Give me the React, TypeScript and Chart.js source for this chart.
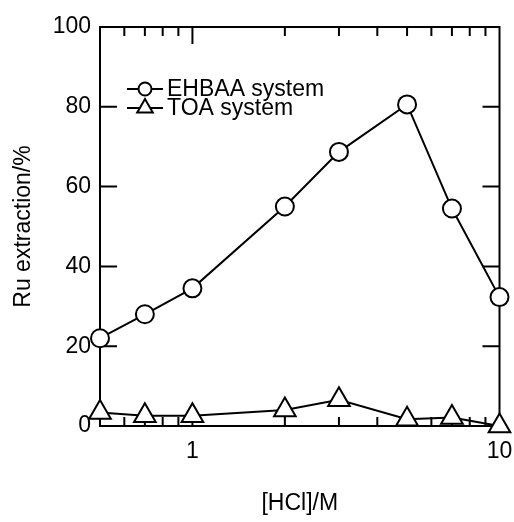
import React, { useEffect, useRef } from 'react';
import { Chart, registerables } from 'chart.js';
import { drawPoint } from 'chart.js/helpers';

Chart.register(...registerables);

const hcl = [0.5, 0.7, 1, 2, 3, 5, 7, 10];
const ehbaa = [22, 28, 34.5, 55, 68.7, 80.6, 54.5, 32.3];
const toa = [3.4, 2.6, 2.6, 4, 6.6, 1.7, 2.1, 0];
const xTickValues = [0.5, 0.6, 0.7, 0.8, 0.9, 1, 2, 3, 4, 5, 6, 7, 8, 9, 10];
const xMajor = [1, 10];
const yTickValues = [0, 20, 40, 60, 80, 100];
const seriesNames = ['EHBAA system', 'TOA system'];
const seriesStyles = ['circle', 'triangle'];
const xTitle = '[HCl]/M';
const yTitle = 'Ru extraction/%';

const FONT_FAMILY = '"Liberation Sans", Arial, Helvetica, sans-serif';

const framePlugin = {
  id: 'frameTicks',
  beforeDatasetsDraw(chart: any) {
    const { ctx, chartArea, scales } = chart;
    const { left, right, top, bottom } = chartArea;
    const x = scales.x;
    const y = scales.y;
    ctx.save();
    ctx.strokeStyle = '#000';
    ctx.lineWidth = 2;
    ctx.lineCap = 'butt';
    ctx.strokeRect(left, top, right - left, bottom - top);
    ctx.beginPath();
    xTickValues.forEach((v) => {
      if (v === xTickValues[0] || v === xTickValues[xTickValues.length - 1]) return;
      const px = x.getPixelForValue(v);
      const len = xMajor.includes(v) ? 17 : 9;
      ctx.moveTo(px, bottom);
      ctx.lineTo(px, bottom - len);
      ctx.moveTo(px, top);
      ctx.lineTo(px, top + len);
    });
    yTickValues.forEach((v) => {
      if (v === yTickValues[0] || v === yTickValues[yTickValues.length - 1]) return;
      const py = y.getPixelForValue(v);
      ctx.moveTo(left, py);
      ctx.lineTo(left + 17, py);
      ctx.moveTo(right, py);
      ctx.lineTo(right - 17, py);
    });
    ctx.stroke();
    ctx.restore();
  },
};

const legendPlugin = {
  id: 'customLegend',
  afterDraw(chart: any) {
    const { ctx } = chart;
    const rows = [89, 108];
    const radii = [6.5, 9];
    ctx.save();
    ctx.font = `23px ${FONT_FAMILY}`;
    ctx.textBaseline = 'middle';
    ctx.textAlign = 'left';
    seriesNames.forEach((name, i) => {
      const yy = rows[i];
      ctx.strokeStyle = '#000';
      ctx.lineWidth = 2;
      ctx.beginPath();
      ctx.moveTo(127, yy);
      ctx.lineTo(163, yy);
      ctx.stroke();
      ctx.fillStyle = '#fff';
      ctx.strokeStyle = '#000';
      drawPoint(ctx, { pointStyle: seriesStyles[i], radius: radii[i], rotation: 0, borderWidth: 2 } as any, 145, yy);
      ctx.fillStyle = '#000';
      ctx.fillText(name, 167, yy + 1);
    });
    ctx.restore();
  },
};

export default function App() {
  const ref = useRef<HTMLCanvasElement | null>(null);
  useEffect(() => {
    if (!ref.current) return;
    const font = { family: FONT_FAMILY, size: 23 };
    const tickFont = { family: FONT_FAMILY, size: 23 };
    const chart = new Chart(ref.current, {
      type: 'line',
      data: {
        datasets: [
          {
            label: seriesNames[0],
            data: hcl.map((v, i) => ({ x: v, y: ehbaa[i] })),
            borderColor: '#000',
            borderWidth: 2,
            pointStyle: 'circle',
            pointRadius: 9,
            pointBorderWidth: 2,
            pointBackgroundColor: '#fff',
            pointBorderColor: '#000',
            clip: false,
            tension: 0,
          } as any,
          {
            label: seriesNames[1],
            data: hcl.map((v, i) => ({ x: v, y: toa[i] })),
            borderColor: '#000',
            borderWidth: 2,
            pointStyle: 'triangle',
            pointRadius: 12.5,
            pointBorderWidth: 2,
            pointBackgroundColor: '#fff',
            pointBorderColor: '#000',
            clip: false,
            tension: 0,
          } as any,
        ],
      },
      options: {
        responsive: false,
        animation: false,
        devicePixelRatio: 1,
        layout: { padding: { top: 27, right: 13, left: 0, bottom: 0 } },
        plugins: { legend: { display: false }, tooltip: { enabled: false } },
        scales: {
          x: {
            type: 'logarithmic',
            min: 0.5,
            max: 10,
            afterBuildTicks: (s: any) => {
              s.ticks = xTickValues.map((v) => ({ value: v }));
            },
            afterFit: (s: any) => {
              s.height = 96;
              s.paddingLeft = 0;
              s.paddingRight = 0;
            },
            ticks: {
              autoSkip: false,
              maxRotation: 0,
              minRotation: 0,
              padding: 12,
              color: '#000',
              font: tickFont,
              callback: (v: any) => (xMajor.includes(Number(v)) ? String(v) : ''),
            },
            grid: { display: false, drawTicks: false },
            border: { display: false },
            title: { display: true, text: xTitle, color: '#000', font, padding: { top: 0, bottom: 5 } },
          },
          y: {
            type: 'linear',
            min: 0,
            max: 100,
            afterBuildTicks: (s: any) => {
              s.ticks = yTickValues.map((v) => ({ value: v }));
            },
            afterFit: (s: any) => {
              s.width = 100;
              s.paddingTop = 0;
              s.paddingBottom = 0;
            },
            ticks: { padding: 9, color: '#000', font: tickFont },
            grid: { display: false, drawTicks: false },
            border: { display: false },
            title: { display: true, text: yTitle, color: '#000', font, padding: { top: 10, bottom: 0 } },
          },
        },
      } as any,
      plugins: [framePlugin, legendPlugin],
    });
    return () => chart.destroy();
  }, []);
  return (
    <div style={{ position: 'fixed', left: 0, top: 0, width: 514, height: 522, background: '#fff' }}>
      <canvas ref={ref} width={514} height={522} style={{ display: 'block' }} />
    </div>
  );
}
